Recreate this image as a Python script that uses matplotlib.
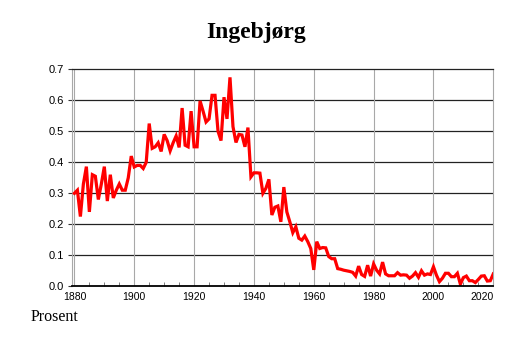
import matplotlib
matplotlib.use("Agg")
import matplotlib.pyplot as plt
from matplotlib.ticker import MultipleLocator, FormatStrFormatter

navn = "Ingebjørg"
enhet = "Prosent"

aar = list(range(1880, 2021))
prosent = [
    # 1880-1899
    0.30, 0.31, 0.225, 0.33, 0.386, 0.24, 0.36, 0.355, 0.28, 0.33,
    0.386, 0.275, 0.36, 0.285, 0.31, 0.33, 0.31, 0.31, 0.35, 0.42,
    # 1900-1919
    0.385, 0.39, 0.39, 0.38, 0.40, 0.525, 0.445, 0.45, 0.463, 0.435,
    0.49, 0.47, 0.437, 0.463, 0.485, 0.448, 0.575, 0.455, 0.45, 0.565,
    # 1920-1939
    0.45, 0.45, 0.598, 0.565, 0.53, 0.54, 0.616, 0.616, 0.50, 0.47,
    0.61, 0.54, 0.674, 0.515, 0.464, 0.49, 0.488, 0.45, 0.512, 0.353,
    # 1940-1959
    0.366, 0.366, 0.365, 0.30, 0.316, 0.345, 0.23, 0.255, 0.259, 0.208,
    0.32, 0.24, 0.208, 0.173, 0.192, 0.155, 0.149, 0.162, 0.144, 0.122,
    # 1960-1979
    0.053, 0.144, 0.122, 0.125, 0.124, 0.096, 0.089, 0.089, 0.057, 0.055,
    0.052, 0.05, 0.048, 0.045, 0.033, 0.065, 0.038, 0.032, 0.068, 0.033,
    # 1980-1999
    0.072, 0.052, 0.040, 0.078, 0.040, 0.034, 0.034, 0.034, 0.044, 0.036,
    0.037, 0.036, 0.026, 0.033, 0.044, 0.029, 0.050, 0.036, 0.040, 0.038,
    # 2000-2020
    0.063, 0.036, 0.015, 0.026, 0.042, 0.042, 0.031, 0.031, 0.042, 0.007,
    0.028, 0.033, 0.018, 0.018, 0.012, 0.022, 0.033, 0.034, 0.017, 0.018,
    0.040,
]

fig = plt.figure(figsize=(5.14, 3.43), dpi=100)
ax = fig.add_axes([0.1401, 0.1653, 0.8196, 0.6327])

# gridlines first so the line lies on top
for y in [0.1, 0.2, 0.3, 0.4, 0.5, 0.6]:
    ax.axhline(y, color="#222222", lw=0.9, zorder=1)
for x in range(1880, 2020, 20):
    ax.axvline(x, color="#a8a8a8", lw=0.8, zorder=1)

ax.plot(aar, prosent, color="#ff0000", lw=2.3, zorder=3, solid_joinstyle="miter")

ax.set_xlim(1879.2, 2020)
ax.set_ylim(0, 0.7)
ax.set_xticks(range(1880, 2021, 20))
ax.xaxis.set_minor_locator(MultipleLocator(5))
ax.yaxis.set_major_locator(MultipleLocator(0.1))
ax.yaxis.set_major_formatter(FormatStrFormatter("%.1f"))

for s in ["right", "left"]:
    ax.spines[s].set_color("#a8a8a8")
    ax.spines[s].set_linewidth(0.8)
ax.spines["top"].set_color("#222222")
ax.spines["top"].set_linewidth(0.9)
ax.spines["bottom"].set_color("black")
ax.spines["bottom"].set_linewidth(1.3)
ax.spines["bottom"].set_zorder(4)

ax.tick_params(axis="x", which="major", length=0, pad=4, labelsize=7.5)
ax.tick_params(axis="x", which="minor", direction="in", length=3, color="#666666", width=0.6)
ax.tick_params(axis="y", which="major", length=3, width=0.8, color="#333333", pad=3, labelsize=8)
for lbl in ax.get_xticklabels() + ax.get_yticklabels():
    lbl.set_fontfamily("Liberation Sans")
ax.get_xticklabels()[-1].set_horizontalalignment("right")

fig.text(0.498, 0.905, navn, ha="center", va="center", fontsize=17,
         fontweight="bold", family="Liberation Serif")
fig.text(0.06, 0.076, enhet, ha="left", va="center", fontsize=11.5,
         family="Liberation Serif")

fig.savefig("out.png", dpi=100)
